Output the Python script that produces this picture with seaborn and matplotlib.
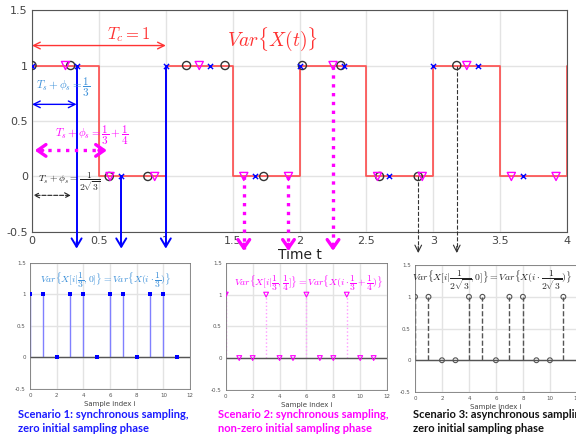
import numpy as np
import pandas as pd
import seaborn as sns
import matplotlib.pyplot as plt

# Var{X(t)} square wave (value held from each edge time)
edge_t = [0.0, 0.5, 1.0, 1.5, 2.0, 2.5, 3.0, 3.5, 4.0]
edge_v = [1, 0, 1, 0, 1, 0, 1, 0, 1]

# sample index and sample times / values per scenario
idx = [0, 1, 2, 3, 4, 5, 6, 7, 8, 9, 10, 11]
t_sc1 = [0.0, 0.333, 0.667, 1.0, 1.333, 1.667, 2.0, 2.333, 2.667, 3.0, 3.333, 3.667]
v_sc1 = [1, 1, 0, 1, 1, 0, 1, 1, 0, 1, 1, 0]
t_sc2 = [0.25, 0.583, 0.917, 1.25, 1.583, 1.917, 2.25, 2.583, 2.917, 3.25, 3.583, 3.917]
v_sc2 = [1, 0, 0, 1, 0, 0, 1, 0, 0, 1, 0, 0]
t_sc3 = [0.0, 0.289, 0.577, 0.866, 1.155, 1.443, 1.732, 2.021, 2.309, 2.598, 2.887, 3.175]
v_sc3 = [1, 1, 0, 0, 1, 1, 0, 1, 1, 0, 0, 1]

# which samples get a down arrow in the top plot
arr_sc1 = [1, 2, 3]
arr_sc2 = [4, 5, 6]
arr_sc3 = [10, 11]

xticks_main = [0, 0.5, 1, 1.5, 2, 2.5, 3, 3.5, 4]
yticks_main = [-0.5, 0, 0.5, 1, 1.5]

BLUE = '#0000ff'
LBLUE = '#3a8fd9'
MAG = '#ff00ff'
RED = '#ff3333'

sns.set_theme(style='whitegrid', rc={'grid.color': '#e3e3e3', 'axes.edgecolor': '#555555',
                                     'axes.linewidth': 0.8})
plt.rcParams['mathtext.fontset'] = 'cm'
plt.rcParams['font.family'] = ['DejaVu Sans']

fig = plt.figure(figsize=(5.76, 4.36), dpi=100)
ax = fig.add_axes([0.0556, 0.468, 0.929, 0.509])

wave = pd.DataFrame({'t': edge_t, 'v': edge_v})
sns.lineplot(data=wave, x='t', y='v', drawstyle='steps-post', color=RED, lw=1.3, alpha=0.8, ax=ax)

s1 = pd.DataFrame({'t': t_sc1, 'v': v_sc1})
s2 = pd.DataFrame({'t': t_sc2, 'v': v_sc2})
s3 = pd.DataFrame({'t': t_sc3, 'v': v_sc3})
sns.scatterplot(data=s3, x='t', y='v', marker='o', s=34, facecolor='none', edgecolor='#333333',
                linewidth=1.0, ax=ax, zorder=4)
sns.scatterplot(data=s2, x='t', y='v', marker='v', s=34, facecolor='none', edgecolor=MAG,
                linewidth=1.0, ax=ax, zorder=5)
sns.scatterplot(data=s1, x='t', y='v', marker='x', s=14, color=BLUE, linewidth=1.0, ax=ax, zorder=6)

ax.set_xlim(0, 4)
ax.set_ylim(-0.5, 1.5)
ax.set_xticks(xticks_main)
ax.set_xticklabels(['0', '0.5', '1', '1.5', '2', '2.5', '3', '3.5', '4'])
ax.set_yticks(yticks_main)
ax.set_yticklabels(['-0.5', '0', '0.5', '1', '1.5'])
ax.tick_params(labelsize=8, colors='#444444', length=3, direction='in', pad=3)
ax.set_xlabel('Time t', fontsize=10, color='#222222', labelpad=1)
ax.set_ylabel('')


def down_arrow(x, y0, y1, color, ls, lw, head):
    ax.plot([x, x], [y0, y1 + 0.02], color=color, ls=ls, lw=lw, clip_on=False, zorder=3)
    ax.annotate('', xy=(x, y1), xytext=(x, y1 + 0.06), annotation_clip=False,
                arrowprops=dict(arrowstyle='->,head_length=%.2f,head_width=%.2f' % head,
                                color=color, lw=lw, shrinkA=0, shrinkB=0))


for i in arr_sc1:
    down_arrow(t_sc1[i], v_sc1[i], -0.65, BLUE, '-', 1.4, (0.5, 0.3))
for i in arr_sc2:
    down_arrow(t_sc2[i], v_sc2[i], -0.67, MAG, ':', 2.4, (0.5, 0.35))
for i in arr_sc3:
    down_arrow(t_sc3[i], v_sc3[i], -0.69, '#333333', '--', 0.8, (0.4, 0.2))

# horizontal double arrows and labels
ax.annotate('', xy=(0.0, 1.18), xytext=(1.0, 1.18),
            arrowprops=dict(arrowstyle='<->', color=RED, lw=1.0, shrinkA=0, shrinkB=0))
ax.text(0.72, 1.275, r'$T_c = 1$', color=RED, fontsize=12, ha='center', va='center')
ax.text(1.80, 1.24, r'$Var\{X(t)\}$', color=RED, fontsize=14, ha='center', va='center')

ax.annotate('', xy=(0.0, 0.65), xytext=(t_sc1[1], 0.65),
            arrowprops=dict(arrowstyle='<->', color=BLUE, lw=1.0, shrinkA=0, shrinkB=0))
ax.text(0.23, 0.80, r'$T_s + \phi_s = \dfrac{1}{3}$', color=LBLUE, fontsize=8, ha='center', va='center')

ax.plot([0.05, 0.52], [0.235, 0.235], color=MAG, ls=':', lw=2.4, zorder=3)
ax.annotate('', xy=(0.02, 0.235), xytext=(0.08, 0.235),
            arrowprops=dict(arrowstyle='->,head_length=0.5,head_width=0.35', color=MAG, lw=2.4,
                            shrinkA=0, shrinkB=0))
ax.annotate('', xy=(0.56, 0.235), xytext=(0.50, 0.235),
            arrowprops=dict(arrowstyle='->,head_length=0.5,head_width=0.35', color=MAG, lw=2.4,
                            shrinkA=0, shrinkB=0))
ax.text(0.45, 0.37, r'$T_s + \phi_s = \dfrac{1}{3} + \dfrac{1}{4}$', color=MAG, fontsize=8,
        ha='center', va='center')

ax.annotate('', xy=(0.01, -0.17), xytext=(0.29, -0.17),
            arrowprops=dict(arrowstyle='<->,head_length=0.3,head_width=0.15', color='#222222', lw=0.8,
                            ls='--', shrinkA=0, shrinkB=0))
ax.text(0.28, -0.05, r'$T_s + \phi_s = \dfrac{1}{2\sqrt{3}}$', color='#222222', fontsize=7,
        ha='center', va='center')

# bottom stem panels
panels = [
    ([0.052, 0.108, 0.278, 0.289], v_sc1, 'x', '#0000ff', '#8080ff', '-',
     r'$Var\{X[i|\dfrac{1}{3},0]\} = Var\{X(i\cdot\dfrac{1}{3})\}$', LBLUE, (0.47, 0.86)),
    ([0.392, 0.106, 0.280, 0.291], v_sc2, 'v', MAG, '#ff9cff', ':',
     r'$Var\{X[i|\dfrac{1}{3},\dfrac{1}{4}]\} = Var\{X(i\cdot\dfrac{1}{3}+\dfrac{1}{4})\}$', MAG, (0.515, 0.84)),
    ([0.7205, 0.101, 0.281, 0.291], v_sc3, 'o', '#555555', '#555555', '--',
     r'$Var\{X[i|\dfrac{1}{2\sqrt{3}},0]\} = Var\{X(i\cdot\dfrac{1}{2\sqrt{3}})\}$', '#222222', (0.475, 0.88)),
]

for rect, vals, mk, mcol, scol, sls, formula, fcol, fpos in panels:
    pa = fig.add_axes(rect)
    pa.vlines(idx, 0, vals, colors=scol, linestyles=sls, lw=1.0, zorder=2)
    pa.axhline(0, color='#555555', lw=1.0, zorder=2)
    st = pd.DataFrame({'i': idx, 'v': vals})
    if mk == 'x':
        sns.scatterplot(data=st, x='i', y='v', marker='s', s=5, color=mcol, linewidth=0, ax=pa, zorder=3)
    else:
        sns.scatterplot(data=st, x='i', y='v', marker=mk, s=12, facecolor='none', edgecolor=mcol,
                        linewidth=0.8, ax=pa, zorder=3)
    pa.set_xlim(0, 12)
    pa.set_ylim(-0.5, 1.5)
    pa.set_xticks([0, 2, 4, 6, 8, 10, 12])
    pa.set_yticks([-0.5, 0, 0.5, 1, 1.5])
    pa.set_yticklabels(['-0.5', '0', '0.5', '1', '1.5'])
    pa.tick_params(labelsize=4, colors='#555555', length=1.5, direction='in', pad=3)
    pa.set_xlabel('Sample index i', fontsize=5, color='#444444', labelpad=2)
    pa.set_ylabel('')
    for sp in pa.spines.values():
        sp.set_color('#777777')
        sp.set_linewidth(0.6)
    pa.text(fpos[0], fpos[1], formula, transform=pa.transAxes, color=fcol, fontsize=7,
            ha='center', va='center')

cap = dict(fontsize=8, fontweight='bold', family=['Lato', 'DejaVu Sans'], va='top', ha='left',
           linespacing=1.3)
fig.text(18 / 576, 1 - 409 / 436, 'Scenario 1: synchronous sampling,\nzero initial sampling phase',
         color='#1a1aff', **cap)
fig.text(218 / 576, 1 - 409 / 436, 'Scenario 2: synchronous sampling,\nnon-zero initial sampling phase',
         color=MAG, **cap)
fig.text(413 / 576, 1 - 409 / 436, 'Scenario 3: asynchronous sampling,\nzero initial sampling phase',
         color='#111111', **cap)

fig.savefig('out.png', dpi=100)
